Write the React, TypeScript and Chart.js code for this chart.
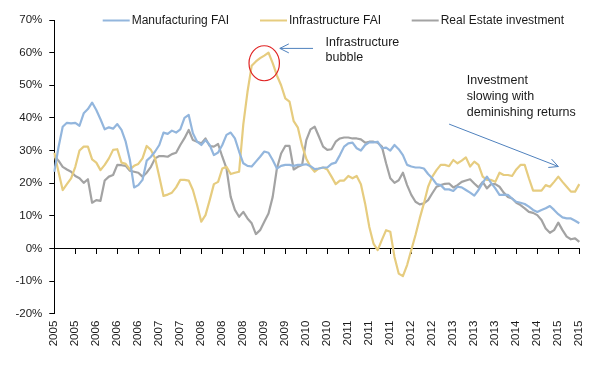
import React, { useEffect, useRef } from 'react';
import { Chart, registerables } from 'chart.js';

Chart.register(...registerables);

// Monthly categories, Mar 2005 .. Aug 2015 (126 months)
const CATEGORIES: string[] = Array.from({ length: 126 }, (_, i) => {
  const m = 2 + i;
  const y = 2005 + Math.floor(m / 12);
  const mo = (m % 12) + 1;
  return `${y}-${String(mo).padStart(2, '0')}`;
});

// Axis labels shown on every 5th month
const TICK_LABELS = [
  '2005', '2005', '2006', '2006', '2006', '2007', '2007', '2008', '2008', '2008',
  '2009', '2009', '2010', '2010', '2011', '2011', '2011', '2012', '2012', '2013',
  '2013', '2013', '2014', '2014', '2015', '2015',
];

const MANUFACTURING_FAI = [
  23.5, 31, 37.3, 38.5, 38.3, 38.5, 37.6, 41.4, 42.7, 44.7,
  42.4, 39.6, 36.5, 37.1, 36.7, 38.1, 36.3, 32.7, 27.1, 18.7,
  19.4, 21, 26.9, 28.1, 29.7, 31.7, 35.5, 35.1, 36.1, 35.5,
  36.5, 40, 40.9, 35.3, 32.7, 31.7, 33.2, 31.7, 28.6, 29.4,
  31.7, 34.8, 35.5, 33.7, 29.7, 26.1, 25.3, 25.1, 26.6, 28.1,
  29.7, 29.3, 27.1, 24.5, 25.3, 25.6, 25.6, 25.3, 25.6, 25.6,
  25.8, 25.2, 24.3, 24.5, 24.8, 24.8, 25.9, 26.3, 28.6, 31.2,
  32.2, 32.4, 30.7, 30, 31.7, 32.5, 32.5, 32.7, 30.7, 30.9,
  30, 31.7, 30.4, 28.6, 25.6, 25.1, 24.8, 24.8, 24.5, 22.8,
  21.5, 19.7, 19.4, 18.1, 18.1, 17.6, 18.9, 18.7, 17.9, 17.1,
  16.2, 17.9, 20.1, 22, 20.1, 18.4, 16.4, 16.4, 16.4, 15.3,
  14.3, 14, 13.6, 12.8, 11.8, 11.2, 11.8, 12.3, 13, 11.8,
  10.5, 9.5, 9.2, 9.2, 8.5, 7.7,
];

const INFRASTRUCTURE_FAI = [
  29.3, 23.5, 17.9, 19.7, 21.5, 25, 30, 31.2, 31.2, 27.3,
  26.3, 24, 25.6, 27.6, 30.2, 30.4, 26.3, 25.9, 24.2, 25.3,
  25.9, 27.6, 31.4, 30.2, 27.6, 22, 16.1, 16.5, 17.1, 18.7,
  21, 21, 20.8, 17.9, 13.3, 8.2, 10.2, 14.8, 19.7, 20.4,
  24.5, 25, 22.8, 23.2, 23.5, 38, 48, 56, 57.3, 58.3,
  59.1, 60, 56.8, 53, 50, 46, 45, 39, 37, 31.5,
  27.5, 25, 23.5, 24.5, 24.8, 24.2, 22, 19.7, 20.8, 20.8,
  22.2, 21.5, 22.2, 19.7, 13.8, 6.6, 1.5, -0.5, 2.6, 5.6,
  5.1, -2.6, -7.7, -8.5, -5.1, -0.5, 4.1, 9.2, 13.8, 18.9,
  22, 24, 25.6, 25.6, 25.2, 27.1, 26.1, 26.9, 27.9, 25.1,
  26.6, 25.6, 22, 21, 21, 20.4, 23.2, 22.5, 22.5, 22.2,
  24.2, 25.6, 25.6, 21.5, 17.7, 17.7, 17.7, 19.4, 18.9, 20.4,
  22, 20.4, 18.9, 17.4, 17.4, 19.7,
];

const REAL_ESTATE_INVESTMENT = [
  28.3, 26.9, 25, 24.2, 23.5, 22.2, 21.5, 20.1, 21.2, 14,
  14.8, 14.6, 20.8, 22, 22.5, 25.6, 25.5, 25.3, 23.8, 23.5,
  23.2, 22, 23.2, 25, 27.6, 28.3, 28.3, 28.1, 28.9, 29.3,
  31.7, 33.8, 36.3, 33.2, 32.7, 32.2, 33.7, 31.4, 31.2, 32,
  28.1, 24.5, 15.8, 11.8, 9.7, 11.2, 9.2, 7.7, 4.4, 5.6,
  8.2, 10.7, 15.8, 24.5, 29.1, 31.4, 31.4, 24.2, 25, 25.6,
  33.2, 36.5, 37.3, 34.3, 31.2, 30.2, 30.4, 32.7, 33.7, 34,
  34, 33.7, 33.7, 33.4, 32.4, 32.7, 32.7, 32.4, 31.2, 26.1,
  21.5, 20.1, 20.9, 23.2, 19.4, 16.4, 14.3, 13.5, 13.8, 14.8,
  16.9, 18.9, 19.4, 19.8, 19.9, 18.7, 19.4, 20.4, 20.8, 21.2,
  19.9, 18.7, 20.4, 18.4, 19.7, 19.7, 18.9, 17.1, 15.8, 15.3,
  14, 13.3, 12.3, 11.2, 10.9, 10.2, 8.7, 6.1, 4.8, 5.6,
  7.9, 5.6, 3.6, 2.8, 3.1, 2.0,
];

const SERIES_NAMES = ['Manufacturing FAI', 'Infrastructure FAI', 'Real Estate investment'];
const SERIES_COLORS = ['#93b6dd', '#e6cc7f', '#a3a3a3'];

const BUBBLE_NOTE = ['Infrastructure', 'bubble'];
const SLOWING_NOTE = ['Investment', 'slowing with', 'deminishing returns'];

const FONT = '"Liberation Sans", Arial, sans-serif';
const TEXT_COLOR = '#1a1a1a';
const AXIS_COLOR = '#000000';
const ARROW_COLOR = '#4f81bd';

function drawArrow(ctx: CanvasRenderingContext2D, x1: number, y1: number, x2: number, y2: number, head: number, spread: number) {
  ctx.beginPath();
  ctx.moveTo(x1, y1);
  ctx.lineTo(x2, y2);
  ctx.stroke();
  const a = Math.atan2(y2 - y1, x2 - x1);
  const c = Math.cos(a);
  const s = Math.sin(a);
  ctx.beginPath();
  ctx.moveTo(x2 - head * c + spread * s, y2 - head * s - spread * c);
  ctx.lineTo(x2, y2);
  ctx.lineTo(x2 - head * c - spread * s, y2 - head * s + spread * c);
  ctx.stroke();
}

const overlayPlugin = {
  id: 'overlay',
  afterDraw(chart: any) {
    const ctx: CanvasRenderingContext2D = chart.ctx;
    const xs = chart.scales.x;
    const ys = chart.scales.y;
    const px = (i: number) => xs.getPixelForValue(i);
    const py = (v: number) => ys.getPixelForValue(v);
    ctx.save();

    // Legend
    const legendY = 20.5;
    const legendStarts = [102.7, 260, 411.7];
    ctx.font = `12px ${FONT}`;
    ctx.textBaseline = 'middle';
    ctx.textAlign = 'left';
    chart.data.datasets.forEach((ds: any, k: number) => {
      const x0 = legendStarts[k];
      ctx.strokeStyle = ds.borderColor;
      ctx.lineWidth = 2;
      ctx.beginPath();
      ctx.moveTo(x0, legendY);
      ctx.lineTo(x0 + 27, legendY);
      ctx.stroke();
      ctx.fillStyle = TEXT_COLOR;
      ctx.fillText(ds.label, x0 + 29, legendY + 0.5);
    });

    // Bubble ellipse
    ctx.strokeStyle = '#e02424';
    ctx.lineWidth = 1.2;
    ctx.beginPath();
    ctx.ellipse(px(49.98), py(56.75), 15.2, 17.5, 0, 0, Math.PI * 2);
    ctx.stroke();

    // Arrows
    ctx.strokeStyle = ARROW_COLOR;
    ctx.lineWidth = 1;
    drawArrow(ctx, px(61.6), py(61.3), px(53.7), py(61.3), 9, 4.5);
    drawArrow(ctx, px(94.0), py(38.1), px(120.0), py(25.1), 9, 4.5);

    // Notes
    ctx.fillStyle = TEXT_COLOR;
    ctx.font = `12.5px ${FONT}`;
    ctx.textBaseline = 'middle';
    BUBBLE_NOTE.forEach((t, k) => ctx.fillText(t, px(64.6), py(63.2) + k * 15.4));
    SLOWING_NOTE.forEach((t, k) => ctx.fillText(t, px(98.2), py(51.3) + k * 15.9));

    ctx.restore();
  },
};

export default function App() {
  const ref = useRef<HTMLCanvasElement | null>(null);

  useEffect(() => {
    if (!ref.current) return;
    const values = [MANUFACTURING_FAI, INFRASTRUCTURE_FAI, REAL_ESTATE_INVESTMENT];
    const chart = new Chart(ref.current, {
      type: 'line',
      data: {
        labels: CATEGORIES,
        datasets: values.map((d, k) => ({
          label: SERIES_NAMES[k],
          data: d,
          borderColor: SERIES_COLORS[k],
          backgroundColor: SERIES_COLORS[k],
          borderWidth: 2.2,
          pointRadius: 0,
          tension: 0,
          fill: false,
          borderJoinStyle: 'round',
          xAxisID: 'x',
          yAxisID: 'y',
        })),
      },
      plugins: [overlayPlugin],
      options: {
        responsive: false,
        animation: false,
        devicePixelRatio: 1,
        layout: { padding: { left: 0, right: 23.7, top: 20, bottom: 0 } },
        plugins: { legend: { display: false }, tooltip: { enabled: false } },
        scales: {
          x: {
            type: 'category',
            position: { y: 0 },
            offset: false,
            grid: {
              display: true,
              drawOnChartArea: false,
              drawTicks: true,
              tickLength: 5,
              lineWidth: 1,
              color: (c: any) => (c.index % 5 === 0 ? AXIS_COLOR : 'rgba(0,0,0,0)'),
            },
            border: { display: true, color: AXIS_COLOR, width: 1 },
            ticks: { display: false, autoSkip: false, maxRotation: 0 },
          },
          x2: {
            type: 'category',
            position: 'bottom',
            offset: false,
            grid: { display: false, drawTicks: false, tickLength: 0 },
            border: { display: false },
            ticks: {
              autoSkip: false,
              minRotation: 90,
              maxRotation: 90,
              padding: 7,
              color: TEXT_COLOR,
              font: { family: FONT, size: 11.5 },
              callback: (_v: any, i: number) => (i % 5 === 0 ? TICK_LABELS[i / 5] : ''),
            },
            afterFit: (s: any) => {
              s.height = 52.3;
            },
          },
          y: {
            min: -20,
            max: 70,
            grid: {
              display: true,
              drawOnChartArea: false,
              drawTicks: true,
              tickLength: 5,
              color: AXIS_COLOR,
            },
            border: { display: true, color: AXIS_COLOR, width: 1 },
            ticks: {
              stepSize: 10,
              padding: 7,
              color: TEXT_COLOR,
              font: { family: FONT, size: 11.5 },
              callback: (v: any) => `${v}%`,
            },
            afterFit: (s: any) => {
              s.width = 54.3;
            },
          },
        },
      } as any,
    });
    return () => chart.destroy();
  }, []);

  return (
    <div style={{ position: 'absolute', left: 0, top: 0, width: 603, height: 366, background: '#fff' }}>
      <canvas ref={ref} width={603} height={366} style={{ display: 'block' }} />
    </div>
  );
}
